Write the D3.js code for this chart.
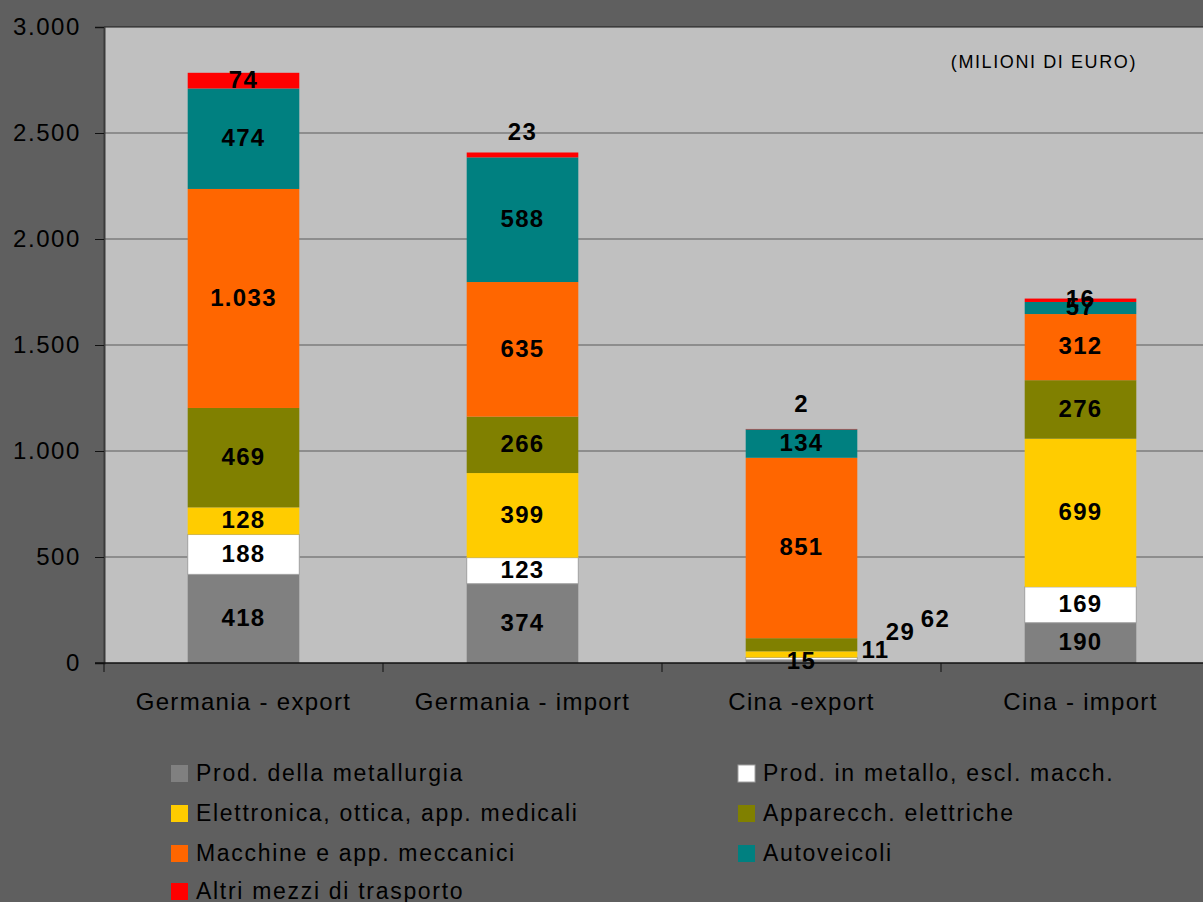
<!DOCTYPE html>
<html>
<head>
<meta charset="utf-8">
<script src="https://cdn.jsdelivr.net/npm/d3@7"></script>
<style>
  body { margin: 0; background: #5f5f5f; }
  svg text { font-family: "Liberation Sans", Arial, sans-serif; }
</style>
</head>
<body>
<div id="chart"></div>
<script>
// categories and series (milioni di euro)
var categories = ["Germania - export", "Germania - import", "Cina -export", "Cina - import"];
var seriesNames = [
    "Prod. della metallurgia",
    "Prod. in metallo, escl. macch.",
    "Elettronica, ottica, app. medicali",
    "Apparecch. elettriche",
    "Macchine e app. meccanici",
    "Autoveicoli",
    "Altri mezzi di trasporto"
];
var metallurgia = [418, 374, 15, 190];
var metallo     = [188, 123, 11, 169];
var elettronica = [128, 399, 29, 699];
var elettriche  = [469, 266, 62, 276];
var macchine    = [1033, 635, 851, 312];
var autoveicoli = [474, 588, 134, 57];
var altri       = [74, 23, 2, 16];
var yTicks = [0, 500, 1000, 1500, 2000, 2500, 3000];

var colors = ["#808080", "#ffffff", "#ffcc00", "#808000", "#ff6600", "#008080", "#ff0000"];
var allSeries = [metallurgia, metallo, elettronica, elettriche, macchine, autoveicoli, altri];

var width = 1203, height = 902;
var plot = { left: 104, top: 27, right: 1220, bottom: 663 };

var svg = d3.select("#chart").append("svg")
    .attr("width", width)
    .attr("height", height);

// plot area
svg.append("rect")
    .attr("x", plot.left).attr("y", plot.top)
    .attr("width", plot.right - plot.left).attr("height", plot.bottom - plot.top)
    .attr("fill", "#c0c0c0");

var y = d3.scaleLinear().domain([0, 3000]).range([plot.bottom, plot.top]);
var x = d3.scaleBand().domain(categories).range([plot.left, plot.right])
    .paddingInner(0.6).paddingOuter(0.3);

var fmt = function(d){ return d3.format(",")(d).replace(/,/g, "."); };

// gridlines
svg.append("g").selectAll("line").data(yTicks.filter(function(d){ return d > 0; }))
    .enter().append("line")
    .attr("x1", plot.left).attr("x2", plot.right)
    .attr("y1", function(d){ return y(d); }).attr("y2", function(d){ return y(d); })
    .attr("stroke", function(d){ return d === 3000 ? "#1a1a1a" : "#5a5a5a"; })
    .attr("stroke-width", 1);

// y axis
var yAxis = d3.axisLeft(y).tickValues(yTicks).tickSize(9).tickPadding(14).tickFormat(fmt);
var gy = svg.append("g").attr("transform", "translate(" + plot.left + ",0)").call(yAxis);
gy.select(".domain").attr("stroke", "#3a3a3a").attr("stroke-width", 2);
gy.selectAll(".tick line").attr("stroke", "#111");
gy.selectAll(".tick text").attr("font-size", 24).attr("fill", "#000")
    .attr("letter-spacing", "1.6px")
    .style("font-family", "Liberation Sans, Arial, sans-serif");

// stacked data
var rows = categories.map(function(c, i){
    var r = { cat: c };
    seriesNames.forEach(function(s, j){ r[s] = allSeries[j][i]; });
    return r;
});
var stack = d3.stack().keys(seriesNames)(rows);

var layers = svg.append("g").selectAll("g").data(stack).enter().append("g")
    .attr("fill", function(d, i){ return colors[i]; });

layers.selectAll("rect").data(function(d){ return d; }).enter().append("rect")
    .attr("x", function(d){ return x(d.data.cat); })
    .attr("width", x.bandwidth())
    .attr("y", function(d){ return y(d[1]); })
    .attr("height", function(d){ return y(d[0]) - y(d[1]); })
    .attr("stroke", function(d){ return d3.select(this.parentNode).datum().index === 1 ? "#a0a0a0" : "none"; })
    .attr("stroke-width", 1);

// x axis line and category ticks
svg.append("line")
    .attr("x1", plot.left - 9).attr("x2", plot.right)
    .attr("y1", plot.bottom).attr("y2", plot.bottom)
    .attr("stroke", "#111").attr("stroke-width", 1.5);

var boundaries = d3.range(categories.length + 1).map(function(i){ return plot.left + i * x.step(); });
svg.append("g").selectAll("line").data(boundaries).enter().append("line")
    .attr("x1", function(d){ return d; }).attr("x2", function(d){ return d; })
    .attr("y1", plot.bottom).attr("y2", plot.bottom + 9)
    .attr("stroke", "#111");

svg.append("g").selectAll("text").data(categories).enter().append("text")
    .attr("x", function(d){ return x(d) + x.bandwidth() / 2; })
    .attr("y", 710)
    .attr("text-anchor", "middle")
    .attr("font-size", 24)
    .attr("letter-spacing", "1.3px")
    .attr("fill", "#000")
    .text(function(d){ return d; });

// value labels (some are moved off the bar, as in the original)
var labelShift = {
    "2-0": [0, 0], "2-1": [74, -8], "2-2": [99, -22], "2-3": [134, -25],
    "1-6": [0, -22], "2-6": [0, -24]
};
var labels = [];
stack.forEach(function(layer, j){
    layer.forEach(function(d, i){
        var key = i + "-" + j;
        var sh = labelShift[key] || [0, 0];
        labels.push({
            v: allSeries[j][i],
            x: x(d.data.cat) + x.bandwidth() / 2 + sh[0],
            y: (y(d[0]) + y(d[1])) / 2 + sh[1]
        });
    });
});
svg.append("g").selectAll("text").data(labels).enter().append("text")
    .attr("x", function(d){ return d.x; })
    .attr("y", function(d){ return d.y; })
    .attr("dy", "0.3em")
    .attr("text-anchor", "middle")
    .attr("font-size", 24)
    .attr("font-weight", "bold")
    .attr("letter-spacing", "1.3px")
    .attr("fill", "#000")
    .text(function(d){ return fmt(d.v); });

// unit note
svg.append("text")
    .attr("x", 1137).attr("y", 68)
    .attr("text-anchor", "end")
    .attr("font-size", 18)
    .attr("letter-spacing", "1.6px")
    .attr("fill", "#000")
    .text("(MILIONI DI EURO)");

// legend
var legendPos = [[171, 773], [738, 773], [171, 813], [738, 813], [171, 853], [738, 853], [171, 891]];
var legend = svg.append("g").selectAll("g").data(seriesNames).enter().append("g")
    .attr("transform", function(d, i){ return "translate(" + legendPos[i][0] + "," + legendPos[i][1] + ")"; });
legend.append("rect")
    .attr("x", 0).attr("y", -8).attr("width", 17).attr("height", 17)
    .attr("fill", function(d, i){ return colors[i]; })
    .attr("stroke", function(d, i){ return i === 1 ? "#a0a0a0" : "none"; });
legend.append("text")
    .attr("x", 25).attr("y", 0).attr("dy", "0.35em")
    .attr("font-size", 23)
    .attr("letter-spacing", "1.7px")
    .attr("fill", "#000")
    .text(function(d){ return d; });
</script>
</body>
</html>
